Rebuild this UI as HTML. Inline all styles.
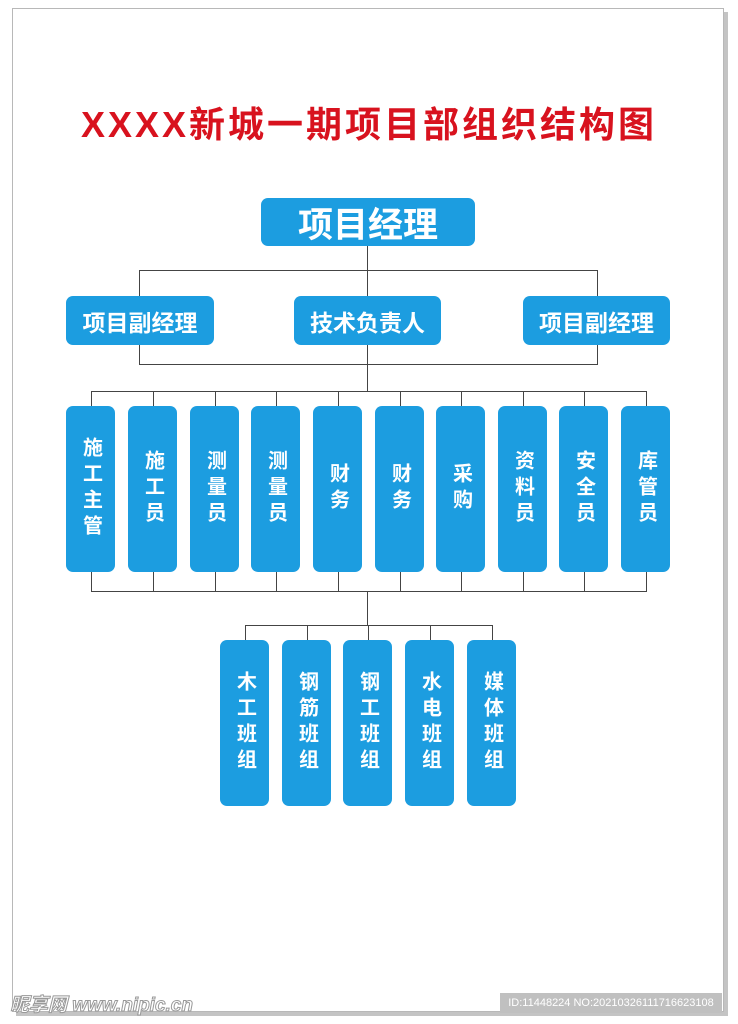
<!DOCTYPE html>
<html><head><meta charset="utf-8"><style>
body{margin:0;width:738px;height:1024px;background:#fff;position:relative;overflow:hidden;font-family:"Liberation Sans","Noto Sans CJK SC",sans-serif}
.page{position:absolute;left:12px;top:8px;width:710px;height:1002px;border:1px solid #b8b8b8;box-shadow:4px 4px 0 #c4c4c4;background:#fff}
.b{position:absolute;z-index:2;background:#1c9de0;color:#fff;font-weight:bold;border-radius:7px;display:flex;align-items:center;justify-content:center;text-align:center}
.v{width:49px;height:166px;font-size:20px;line-height:26px;writing-mode:vertical-rl;letter-spacing:6px}
.l{position:absolute;z-index:1;background:#444}
.h{height:1px}.w{width:1px}
</style></head><body>
<div class="page"></div>
<div style="position:absolute;left:0;width:738px;top:96px;text-align:center;color:#d8121e;font-size:36px;font-weight:bold;letter-spacing:3px">XXXX新城一期项目部组织结构图</div>
<div class="b" style="left:261px;top:198px;width:214px;height:48px;font-size:35px">项目经理</div>
<div class="b" style="left:66px;top:296px;width:148px;height:49px;font-size:23px">项目副经理</div>
<div class="b" style="left:294px;top:296px;width:147px;height:49px;font-size:23px">技术负责人</div>
<div class="b" style="left:523px;top:296px;width:147px;height:49px;font-size:23px">项目副经理</div>
<div class="l w" style="left:367px;top:246px;height:145px"></div>
<div class="l h" style="left:139px;top:270px;width:459px"></div>
<div class="l w" style="left:139px;top:270px;height:26px"></div>
<div class="l w" style="left:597px;top:270px;height:26px"></div>
<div class="l w" style="left:139px;top:345px;height:20px"></div>
<div class="l w" style="left:597px;top:345px;height:20px"></div>
<div class="l h" style="left:139px;top:364px;width:459px"></div>
<div class="l h" style="left:91px;top:391px;width:556px"></div>
<div class="l h" style="left:91px;top:591px;width:556px"></div>
<div class="l w" style="left:367px;top:591px;height:34px"></div>
<div class="l h" style="left:245px;top:625px;width:247px"></div>
<div id="c"></div>
<div style="position:absolute;left:10px;top:990px;font-size:19px;font-style:italic;font-weight:bold;color:#fff;-webkit-text-stroke:1px #999">昵享网 www.nipic.cn</div>
<div style="position:absolute;left:500px;top:993px;width:222px;height:20px;background:#c0c0c0;color:#fff;font-size:11px;line-height:20px;text-align:center">ID:11448224 NO:20210326111716623108</div>
<script>
var t=["施工主管","施工员","测量员","测量员","财务","财务","采购","资料员","安全员","库管员"],x=[66,128,190,251,313,375,436,498,559,621],h="";
for(var i=0;i<10;i++){h+='<div class="b v" style="left:'+x[i]+'px;top:406px">'+t[i]+'</div><div class="l w" style="left:'+(x[i]+25)+'px;top:391px;height:15px"></div><div class="l w" style="left:'+(x[i]+25)+'px;top:572px;height:19px"></div>';}
var t2=["木工班组","钢筋班组","钢工班组","水电班组","媒体班组"],x2=[220,282,343,405,467];
for(var i=0;i<5;i++){h+='<div class="b v" style="left:'+x2[i]+'px;top:640px">'+t2[i]+'</div><div class="l w" style="left:'+(x2[i]+25)+'px;top:625px;height:15px"></div>';}
document.getElementById("c").innerHTML=h;
</script>
</body></html>
